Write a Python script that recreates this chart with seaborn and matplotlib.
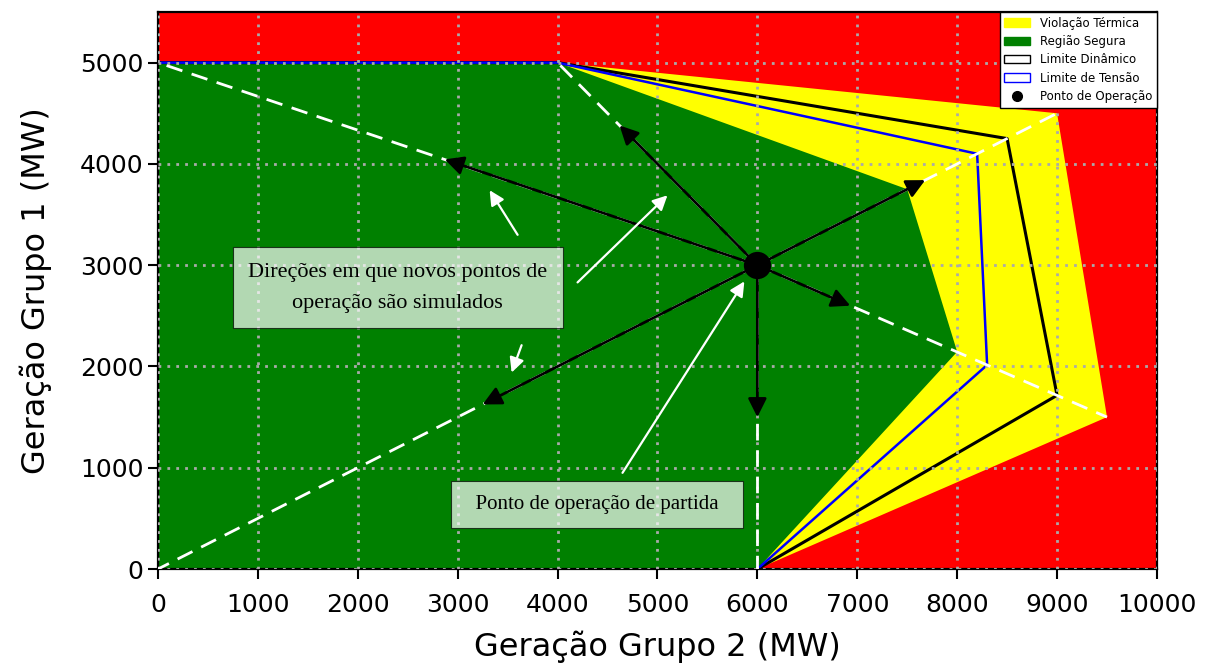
import matplotlib
matplotlib.use("Agg")
import matplotlib.pyplot as plt
from matplotlib.patches import Patch
from matplotlib.lines import Line2D
import seaborn as sns

# regioes (Geracao Grupo 2, Geracao Grupo 1)
termica_x = [0, 4000, 9000, 9500, 6000, 0]
termica_y = [5000, 5000, 4500, 1500, 0, 0]
segura_x = [0, 4000, 7500, 8000, 6000, 0]
segura_y = [5000, 5000, 3750, 2145, 0, 0]

# limites
dinamico_x = [0, 4000, 8500, 9000, 6000]
dinamico_y = [5000, 5000, 4250, 1715, 0]
tensao_x = [0, 4000, 8200, 8300, 6000]
tensao_y = [5000, 5000, 4100, 2015, 0]

# ponto de operacao e direcoes simuladas
op_x = [6000]
op_y = [3000]
raio_x = [0, 4000, 9000, 9500, 0, 6000]
raio_y = [5000, 5000, 4500, 1500, 0, 0]
seta_x = [2870, 4620, 7680, 6930, 3250, 6000]
seta_y = [4045, 4380, 3840, 2600, 1625, 1500]

# setas brancas das anotacoes
nota_ini_x = [3600, 4200, 3640, 4650]
nota_ini_y = [3300, 2830, 2210, 950]
nota_fim_x = [3320, 5100, 3540, 5870]
nota_fim_y = [3740, 3690, 1940, 2840]

sns.set_style("ticks")
plt.rcParams['font.family'] = ['DejaVu Sans']
plt.rcParams['text.color'] = 'black'
plt.rcParams['axes.labelcolor'] = 'black'

fig = plt.figure(figsize=(12.19, 6.66), dpi=100)
ax = fig.add_axes([0.1296, 0.1456, 0.8195, 0.8364])
ax.set_facecolor("red")

ax.fill(termica_x, termica_y, color="yellow", lw=0, zorder=1)
ax.fill(segura_x, segura_y, color="green", lw=0, zorder=1)

sns.lineplot(x=dinamico_x, y=dinamico_y, sort=False, estimator=None,
             color="black", lw=2.2, ax=ax, zorder=2)
sns.lineplot(x=tensao_x, y=tensao_y, sort=False, estimator=None,
             color="blue", lw=1.8, ax=ax, zorder=2)

for rx, ry in zip(raio_x, raio_y):
    ax.plot([op_x[0], rx], [op_y[0], ry], color="white", lw=2,
            dashes=(6, 3.5), zorder=3)

for sx, sy in zip(seta_x, seta_y):
    ax.annotate("", xy=(sx, sy), xytext=(op_x[0], op_y[0]),
                arrowprops=dict(arrowstyle="-|>", color="black", lw=2,
                                mutation_scale=28, shrinkA=0, shrinkB=0),
                zorder=4)

for x0, y0, x1, y1 in zip(nota_ini_x, nota_ini_y, nota_fim_x, nota_fim_y):
    ax.annotate("", xy=(x1, y1), xytext=(x0, y0),
                arrowprops=dict(arrowstyle="-|>", color="white", lw=1.6,
                                mutation_scale=22, shrinkA=0, shrinkB=0),
                zorder=4)

sns.scatterplot(x=op_x, y=op_y, color="black", s=330, ax=ax, zorder=5,
                edgecolor="black")

caixa = dict(boxstyle="square,pad=0.7", facecolor="white", alpha=0.7,
             edgecolor="black", lw=0.8)
ax.text(2400, 2775, "Direções em que novos pontos de\noperação são simulados",
        ha="center", va="center", fontsize=16, linespacing=1.85,
        family="Liberation Serif", bbox=caixa, zorder=6)
caixa2 = dict(caixa, boxstyle="square,pad=0.65")
ax.text(4395, 637, "  Ponto de operação de partida  ", ha="center", va="center",
        fontsize=15, family="Liberation Serif", bbox=caixa2, zorder=6)

ax.set_xlim(0, 10000)
ax.set_ylim(0, 5500)
ax.set_xticks(range(0, 10001, 1000))
ax.set_yticks(range(0, 5001, 1000))
ax.tick_params(labelsize=18, length=7, width=1.5, colors="black")
ax.tick_params(axis="x", pad=10)
for s in ax.spines.values():
    s.set_linewidth(1.6)
    s.set_color("black")
ax.grid(True, color="#aaaaaa", lw=2, linestyle=(0, (1, 2.2)))
ax.set_axisbelow(False)
ax.set_xlabel("Geração Grupo 2 (MW)", fontsize=23, labelpad=10)
ax.set_ylabel("Geração Grupo 1 (MW)", fontsize=23, labelpad=20)

handles = [
    Patch(facecolor="yellow", edgecolor="yellow", label="Violação Térmica"),
    Patch(facecolor="green", edgecolor="green", label="Região Segura"),
    Patch(facecolor="white", edgecolor="black", label="Limite Dinâmico"),
    Patch(facecolor="white", edgecolor="blue", label="Limite de Tensão"),
    Line2D([], [], marker="o", color="black", ls="", markersize=7,
           label="Ponto de Operação"),
]
leg = ax.legend(handles=handles, loc="upper right", fontsize=8.5,
                borderaxespad=0, fancybox=False, framealpha=1,
                edgecolor="black", handlelength=2.2, labelspacing=0.45)
leg.set_zorder(10)

fig.savefig("out.png", dpi=100)
